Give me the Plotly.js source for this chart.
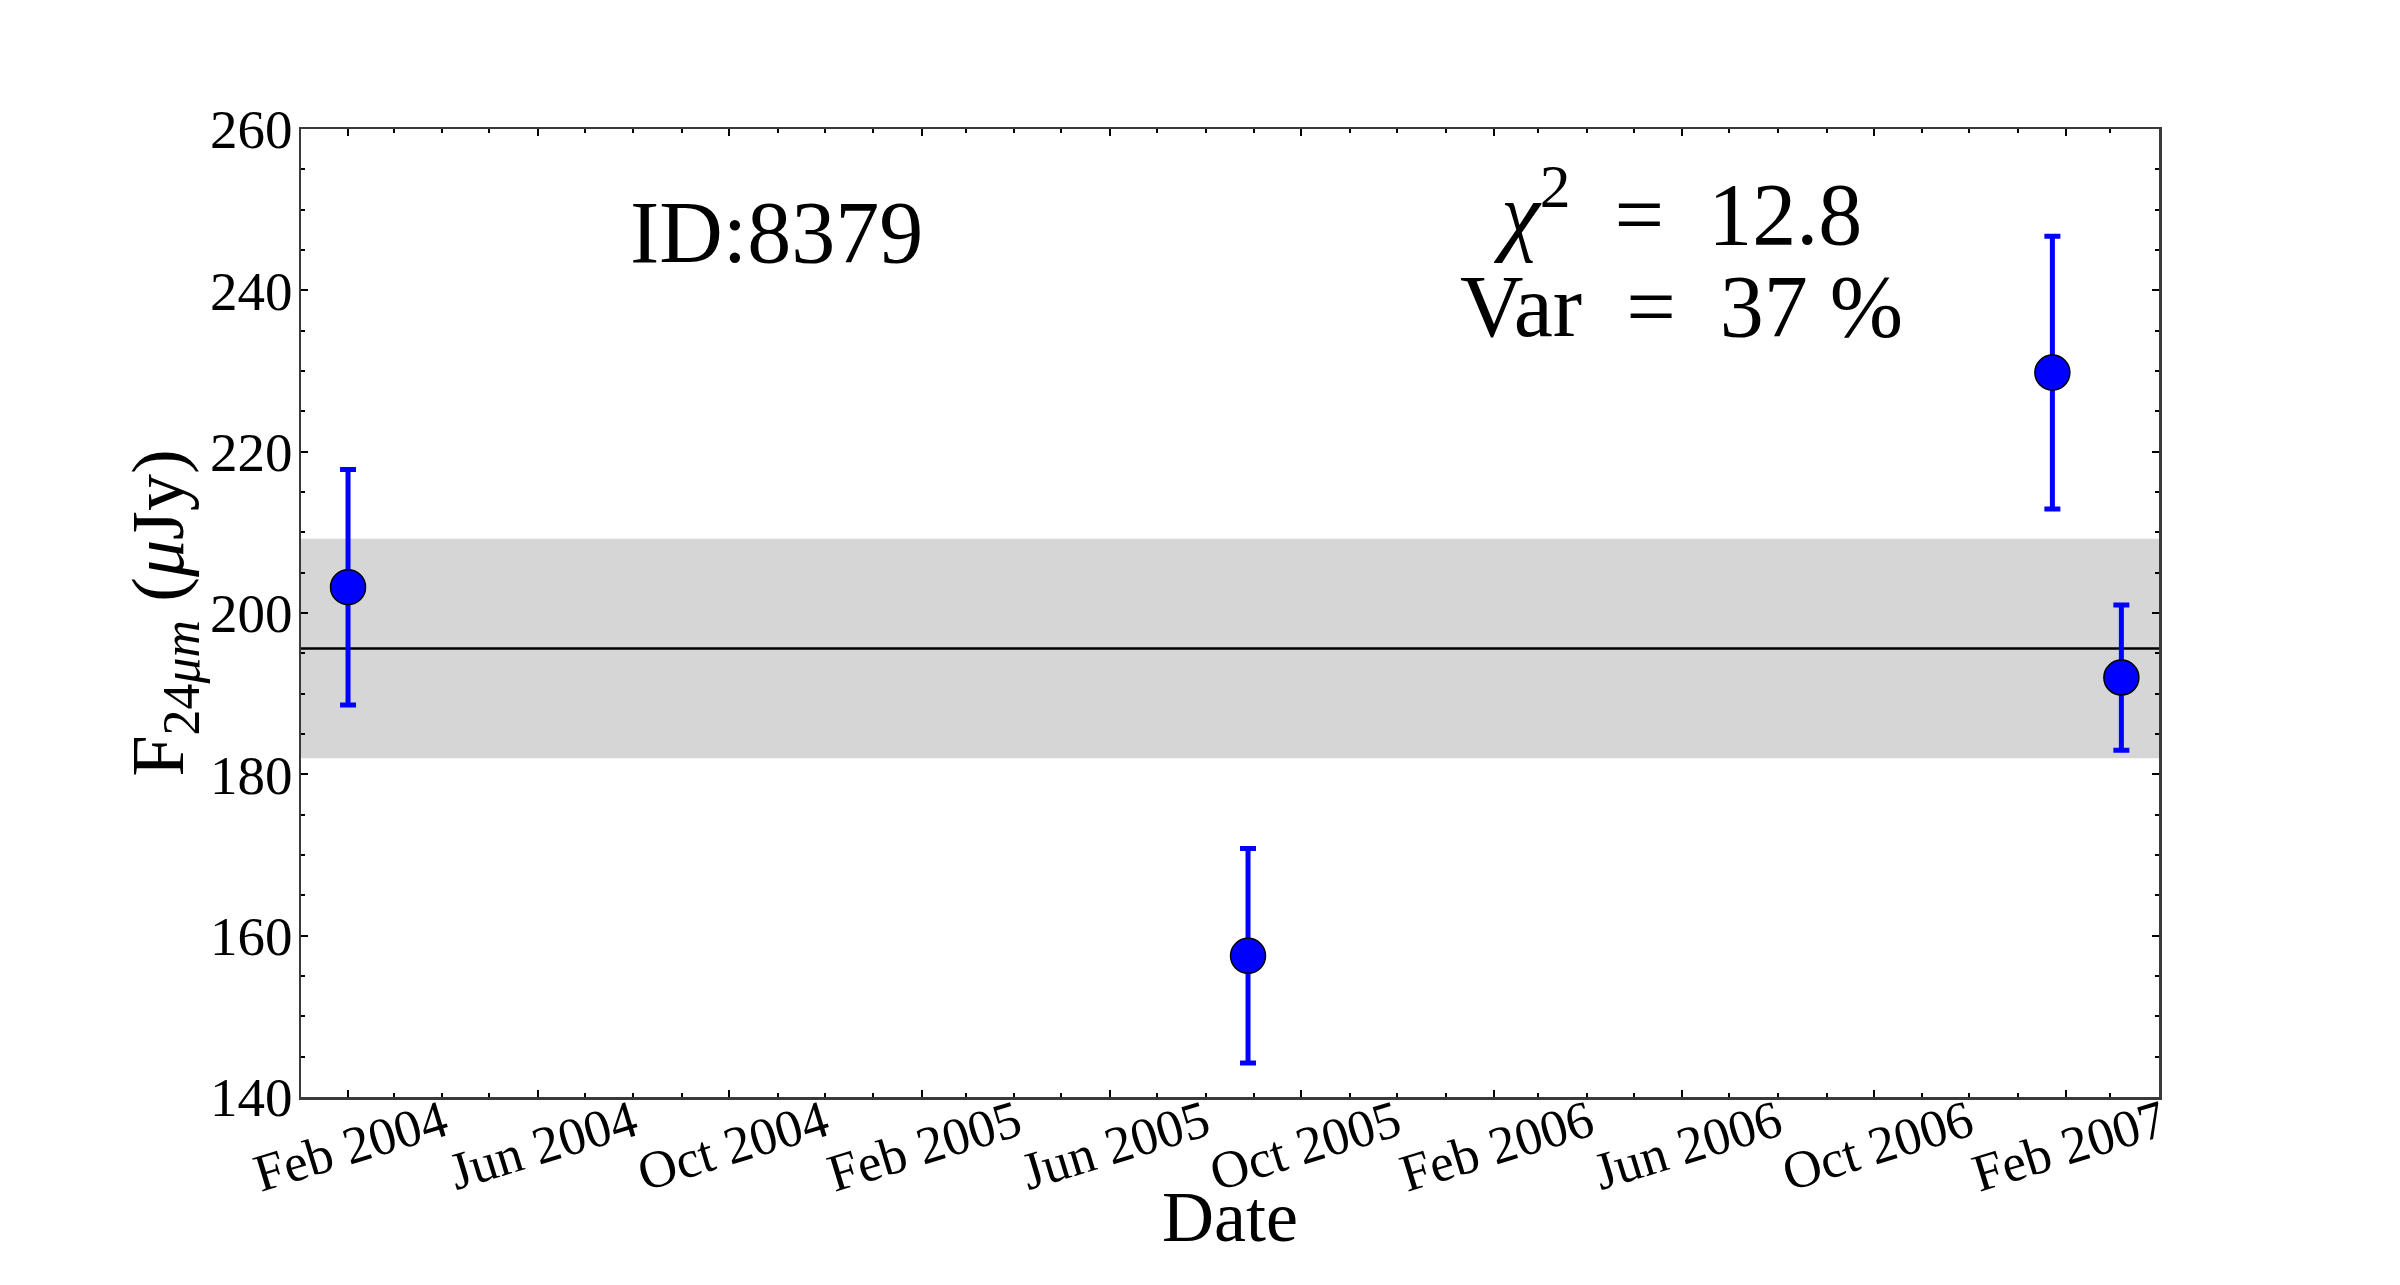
<!DOCTYPE html>
<html><head><meta charset="utf-8">
<script src="https://cdn.plot.ly/plotly-3.0.1.min.js"></script>
<style>html,body{margin:0;padding:0;background:#fff}</style>
</head><body><div id="chart" style="width:2400px;height:1285px"></div>
<script>
// Observation dates, fluxes (μJy) and 1σ errors
const obsDates = ['2004-02-01', '2005-08-28', '2007-01-23', '2007-03-08'];
const fluxValues = [203.2, 157.5, 229.8, 192.0];
const fluxErrors = [14.6, 13.3, 16.9, 9.0];
// Weighted mean and its band
const meanFlux = 195.6;
const bandLow = 182.0;
const bandHigh = 209.2;
// Axis ranges and texts
const xRange = ['2004-01-02', '2007-04-01'];
const yRange = [140, 260];
const xTitle = 'Date';
const objectLabel = 'ID:8379';
const chi2Value = '12.8';
const varValue = '37';

const FONT = 'Liberation Serif, Times New Roman, serif';
const SP = '\u2002';

const points = {
  type: 'scatter', mode: 'markers',
  x: obsDates, y: fluxValues,
  error_y: {type: 'data', array: fluxErrors, visible: true, color: '#0000ff', thickness: 5, width: 8},
  marker: {color: '#0000ff', size: 35, line: {color: '#000', width: 1.5}},
  showlegend: false, hoverinfo: 'x+y'
};

const layout = {
  width: 2400, height: 1285,
  margin: {l: 301, r: 241, t: 129, b: 188},
  paper_bgcolor: '#fff', plot_bgcolor: '#fff',
  font: {family: FONT, color: '#000'},
  showlegend: false,
  xaxis: {
    type: 'date', range: xRange,
    tick0: '2004-02-01', dtick: 'M4', tickformat: '%b %Y',
    tickangle: -17, ticklabelshift: 95, ticklabelstandoff: -28,
    tickfont: {family: FONT, size: 53, color: '#000'},
    ticks: 'inside', ticklen: 7, tickwidth: 2, tickcolor: '#000',
    minor: {dtick: 'M1', tick0: '2004-01-01', ticks: 'inside', ticklen: 4, tickwidth: 2, tickcolor: '#000', showgrid: false},
    showline: true, linecolor: '#3a3a3a', linewidth: 2.5, mirror: 'ticks',
    showgrid: false, zeroline: false,
    automargin: false
  },
  yaxis: {
    range: yRange, dtick: 20, tick0: 140,
    tickfont: {family: FONT, size: 55, color: '#000'},
    ticklabelstandoff: -5,
    ticks: 'inside', ticklen: 7, tickwidth: 2, tickcolor: '#000',
    minor: {dtick: 5, ticks: 'inside', ticklen: 4, tickwidth: 2, tickcolor: '#000', showgrid: false},
    showline: true, linecolor: '#3a3a3a', linewidth: 2.5, mirror: 'ticks',
    showgrid: false, zeroline: false,
    title: {text: 'F<sub>24<i>μm</i></sub> (<i>μ</i>Jy)', font: {family: FONT, size: 74, color: '#000'}, standoff: 0},
    automargin: false
  },
  shapes: [
    {type: 'rect', xref: 'paper', yref: 'y', x0: 0, x1: 1, y0: bandLow, y1: bandHigh,
     fillcolor: '#d6d6d6', line: {width: 0}, layer: 'below'},
    {type: 'line', xref: 'paper', yref: 'y', x0: 0, x1: 1, y0: meanFlux, y1: meanFlux,
     line: {color: '#000', width: 2.5}, layer: 'below'}
  ],
  annotations: [
    {xref: 'paper', yref: 'paper', x: 0.5, y: -0.124, text: xTitle, showarrow: false,
     xanchor: 'center', yanchor: 'middle', font: {family: FONT, size: 72, color: '#000'}},
    {xref: 'paper', yref: 'paper', x: 0.256, y: 0.893, text: objectLabel, showarrow: false,
     xanchor: 'center', yanchor: 'middle', font: {family: FONT, size: 88, color: '#000'}},
    {xref: 'paper', yref: 'paper', x: 0.741, y: 0.919, text: '<i>χ</i><sup>2</sup>' + SP + '=' + SP + chi2Value, showarrow: false,
     xanchor: 'center', yanchor: 'middle', font: {family: FONT, size: 88, color: '#000'}},
    {xref: 'paper', yref: 'paper', x: 0.743, y: 0.817, text: 'Var' + SP + '=' + SP + varValue + ' %', showarrow: false,
     xanchor: 'center', yanchor: 'middle', font: {family: FONT, size: 88, color: '#000'}}
  ]
};

Plotly.newPlot('chart', [points], layout, {displayModeBar: false, staticPlot: true});
</script>
</body></html>
